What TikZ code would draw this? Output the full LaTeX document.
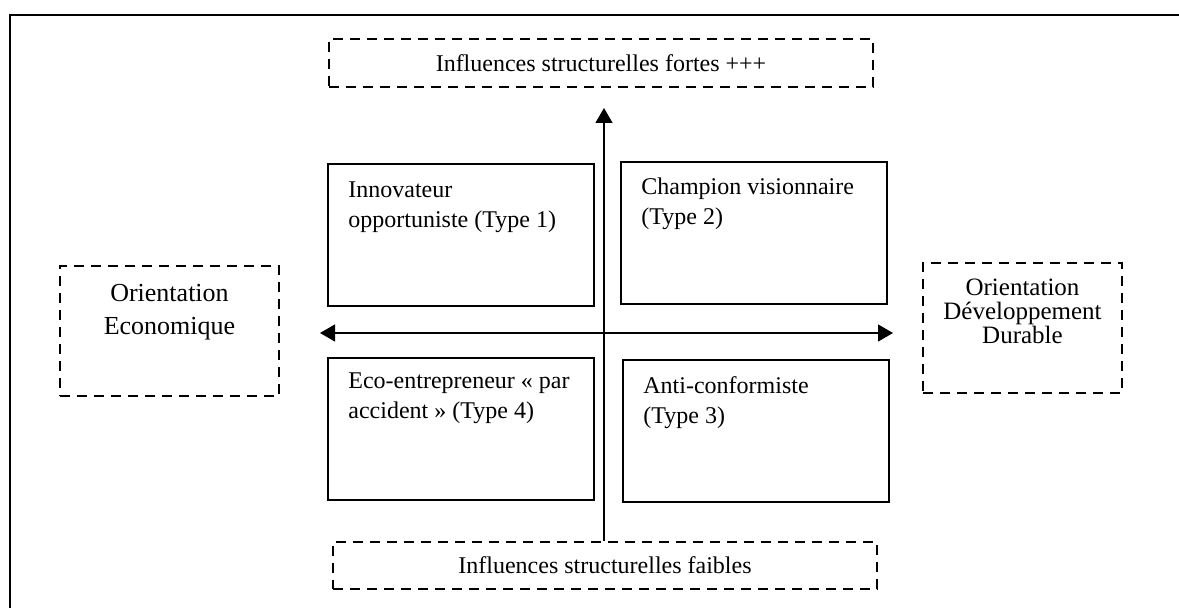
\documentclass[tikz,border=0pt]{standalone}
\usepackage{fontspec}
\setmainfont{Liberation Serif}
\usetikzlibrary{arrows.meta,positioning}

\begin{document}
\begin{tikzpicture}[x=0.5pt,y=-0.5pt,
  quadbox/.style={draw, line width=0.8pt, anchor=north west, inner sep=0pt,
    minimum width=133pt, minimum height=71pt},
  quadtext/.style={anchor=north west, align=left, inner sep=0pt,
    font=\fontsize{12}{15}\selectfont},
  dashbox/.style={draw, line width=0.8pt, dash pattern=on 5pt off 3.5pt,
    inner sep=0pt, font=\fontsize{12}{15}\selectfont},
  axis/.style={line width=0.7pt}]
\useasboundingbox (0,0) rectangle (1179,608);
\draw[line width=1pt] (1179,15) -- (10,15) -- (10,608);

% influences
\node[dashbox, minimum width=272pt, minimum height=24pt] (fortes) at (601,63) {Influences structurelles fortes +++};
\node[dashbox, minimum width=272pt, minimum height=23.5pt] (faibles) at (605,565.5) {Influences structurelles faibles};

% orientations
\node[dashbox, minimum width=109.5pt, minimum height=65pt] (eco) at (169.5,331) {};
\node[anchor=north, align=center, inner sep=0pt, font=\fontsize{13}{16.5}\selectfont] (ecotxt) at ([yshift=-9.5pt]eco.north) {Orientation\\Economique};
\node[dashbox, minimum width=99.5pt, minimum height=65pt] (dd) at (1022.5,328) {};
\node[anchor=north, align=center, inner sep=0pt, font=\fontsize{12.5}{12}\selectfont] (ddtxt) at ([yshift=-8pt]dd.north) {Orientation\\Développement\\Durable};

% types
\node[quadbox] (t1) at (327,163) {};
\node[quadbox] (t2) at (620,161) {};
\node[quadbox] (t4) at (327,357) {};
\node[quadbox] (t3) at (622,359) {};
\node[quadtext] (t1txt) at ([xshift=10.5pt,yshift=-9pt]t1.north west) {Innovateur\\opportuniste (Type 1)};
\node[quadtext] (t2txt) at ([xshift=10.5pt,yshift=-8pt]t2.north west) {Champion visionnaire\\(Type 2)};
\node[quadtext] (t4txt) at ([xshift=10.5pt,yshift=-7.5pt]t4.north west) {Eco-entrepreneur «~par\\accident~» (Type 4)};
\node[quadtext] (t3txt) at ([xshift=10.5pt,yshift=-8.5pt]t3.north west) {Anti-conformiste\\(Type 3)};

% axes
\coordinate (gauche) at (320,333);
\coordinate (droite) at (893,333);
\coordinate (haut) at (604,108);
\draw[axis, {Triangle[length=7.5pt,width=8.5pt]}-{Triangle[length=7.5pt,width=8.5pt]}] (gauche) -- (droite);
\draw[axis, -{Triangle[length=7.5pt,width=8.5pt]}] (faibles.north -| haut) -- (haut);
\end{tikzpicture}
\end{document}
